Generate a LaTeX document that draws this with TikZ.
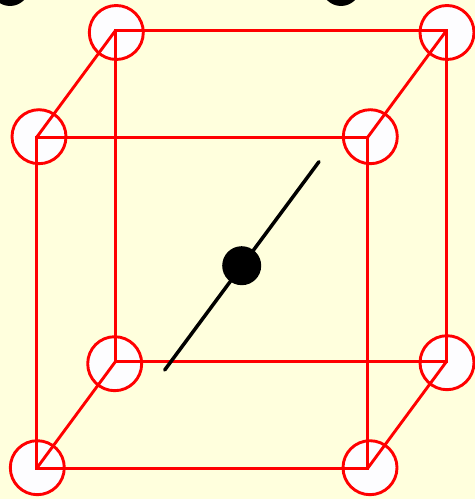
\documentclass[tikz,border=0pt]{standalone}
\definecolor{paper}{HTML}{FFFFDD}
\definecolor{hole}{HTML}{FDFDFF}
\begin{document}
\begin{tikzpicture}[x=0.02cm, y=-0.02cm,
  site/.style={circle, draw=red, fill=hole, line width=1.65pt, minimum size=1.08cm, inner sep=0pt},
  atom/.style={circle, fill=black, minimum size=0.78cm, inner sep=0pt},
  edge/.style={draw=red, line width=1.65pt, line join=miter},
  rod/.style={draw=black, line width=2pt, line cap=round}]
\useasboundingbox (0,0) rectangle (475,499);
\clip (0,0) rectangle (475,499);
\fill[paper] (0,0) rectangle (475,499);
% atoms above the frame
\node[atom] (atomleft) at (10,-13.5) {};
\node[atom] (atomright) at (341,-13.5) {};
% lattice sites
\node[site] (sitea) at (116.3,32.5) {};
\node[site] (siteb) at (447,32.5) {};
\node[site] (sitec) at (39,136.7) {};
\node[site] (sited) at (370.3,136.7) {};
\node[site] (sitee) at (114.7,363.7) {};
\node[site] (sitef) at (447,362.7) {};
\node[site] (siteg) at (37.3,467.7) {};
\node[site] (siteh) at (370,467.7) {};
% cube corners
\coordinate (a) at (115.5,30.5);
\coordinate (b) at (446.5,30.5);
\coordinate (c) at (36.5,137.5);
\coordinate (d) at (367.5,137.5);
\coordinate (e) at (115.5,361.5);
\coordinate (f) at (446.5,361.5);
\coordinate (g) at (36.5,468.5);
\coordinate (h) at (367.5,468.5);
\draw[edge] (a) -- (b) -- (f) -- (e) -- cycle;
\draw[edge] (c) -- (d) -- (h) -- (g) -- cycle;
\draw[edge] (a) -- (c);
\draw[edge] (b) -- (d);
\draw[edge] (e) -- (g);
\draw[edge] (f) -- (h);
% centre atom
\coordinate (rodlow) at (164.7,370);
\coordinate (rodhigh) at (319,161.7);
\draw[rod] (rodlow) -- (rodhigh);
\node[atom] (atommid) at (241.7,265.7) {};
\end{tikzpicture}
\end{document}
